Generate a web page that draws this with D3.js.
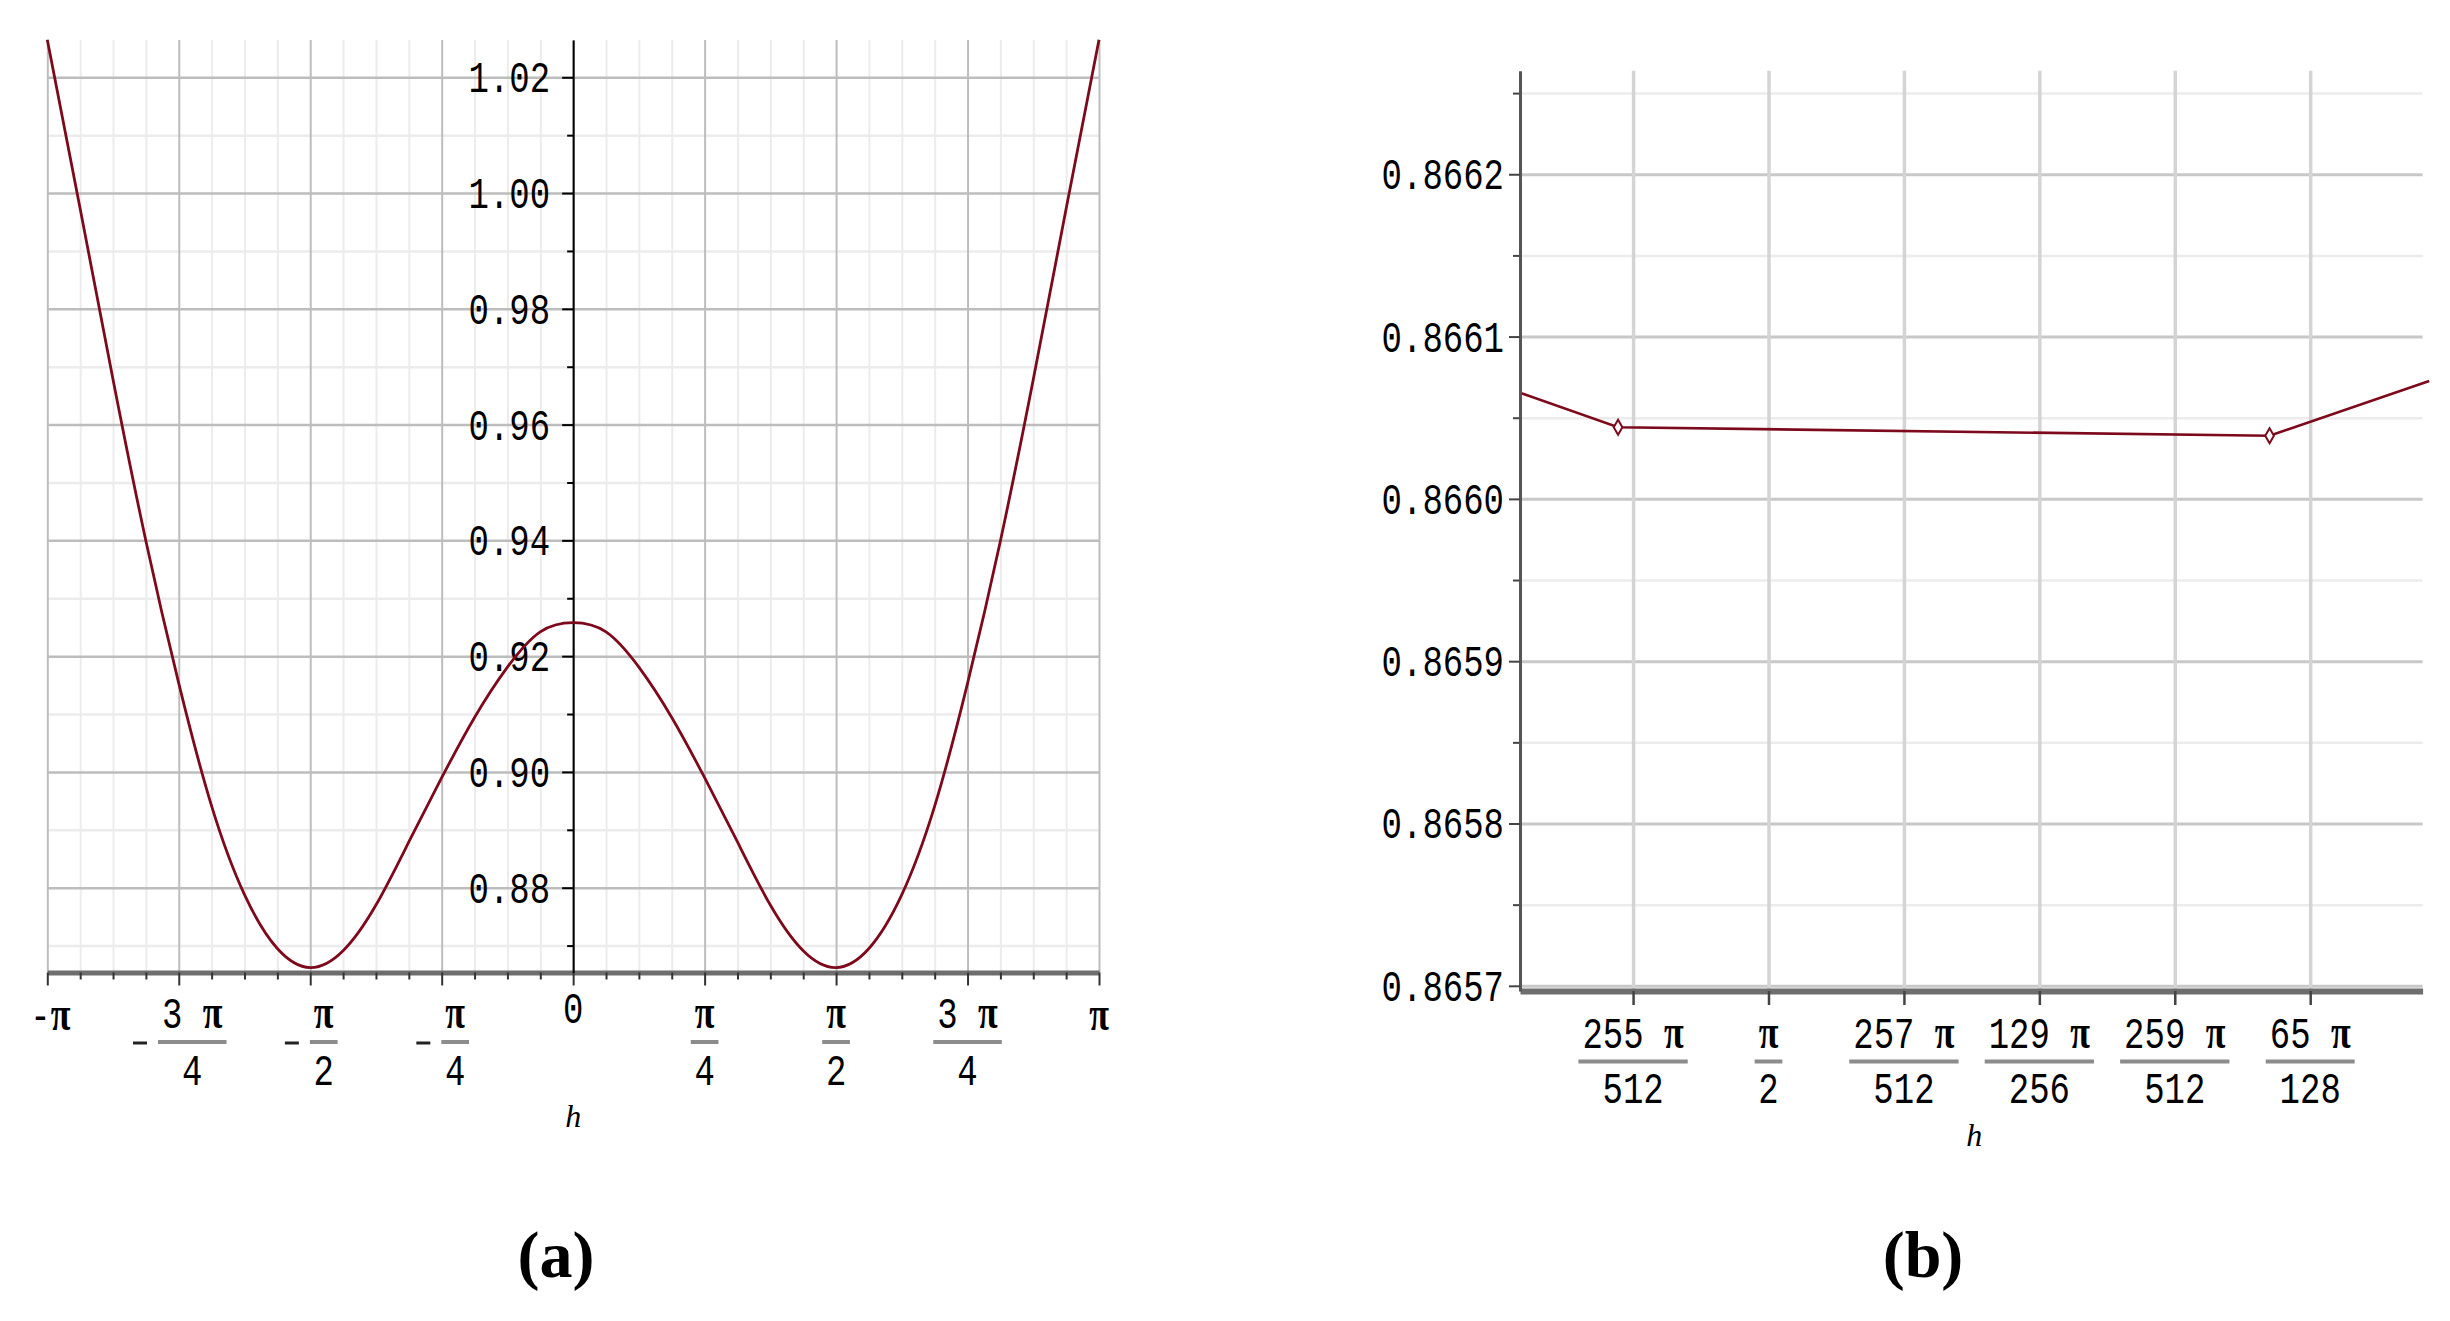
<!DOCTYPE html>
<html>
<head>
<meta charset="utf-8">
<script src="https://cdn.jsdelivr.net/npm/d3@7"></script>
<style>
body { margin: 0; background: #fff; }
text { white-space: pre; }
</style>
</head>
<body>
<script>
// ---- panel (a): h given in multiples of pi/16
var aH = [-16, -15, -14, -13, -12, -11, -10, -9, -8, -7, -6, -5, -4, -3, -2, -1,
          0, 1, 2, 3, 4, 5, 6, 7, 8, 9, 10, 11, 12, 13, 14, 15, 16];
var aF = [1.0265, 0.9973, 0.9678, 0.9399, 0.9153, 0.8941, 0.8788, 0.8695, 0.8662,
          0.8691, 0.8770, 0.8879, 0.8990, 0.9094, 0.9181, 0.9242,
          0.9258,
          0.9242, 0.9181, 0.9094, 0.8990, 0.8879, 0.8770, 0.8691,
          0.8662, 0.8695, 0.8788, 0.8941, 0.9153, 0.9399, 0.9678, 0.9973, 1.0265];
var aYTicks = [0.88, 0.90, 0.92, 0.94, 0.96, 0.98, 1.00, 1.02];
var aYMinor = [0.87, 0.89, 0.91, 0.93, 0.95, 0.97, 0.99, 1.01];
var aXTicks = [-1, -0.75, -0.5, -0.25, 0, 0.25, 0.5, 0.75, 1];
var aXSign = ["", "-", "-", "-", "", "", "", "", ""];
var aXNum = ["-π", "3 π", "π", "π", "0", "π", "π", "3 π", "π"];
var aXDen = ["", "4", "2", "4", "", "4", "2", "4", ""];

// ---- panel (b): h given in multiples of pi/512
var bH = [254.165, 254.889, 259.70, 260.879];
var bF = [0.8660654, 0.8660441, 0.8660389, 0.8660726];
var bMarked = [false, true, true, false];
var bYTicks = [0.8657, 0.8658, 0.8659, 0.8660, 0.8661, 0.8662];
var bYMinor = [0.86575, 0.86585, 0.86595, 0.86605, 0.86615, 0.86625];
var bXTicks = [255, 256, 257, 258, 259, 260];
var bXNum = ["255 π", "π", "257 π", "129 π", "259 π", "65 π"];
var bXDen = ["512", "2", "512", "256", "512", "128"];

var MONO = "'Liberation Mono', 'DejaVu Sans Mono', monospace";
var SY = 1.33;
var RED = "#7d0a1c";

var svg = d3.select("body").append("svg")
    .attr("width", 2450)
    .attr("height", 1321)
    .style("display", "block");

function grid(g, axis, color, w) {
  g.call(axis);
  g.select(".domain").remove();
  g.selectAll("text").remove();
  g.selectAll(".tick line").attr("stroke", color).attr("stroke-width", w);
}

function monoText(g, x, y, str) {
  var t = g.append("text")
      .attr("transform", "translate(" + x + "," + y + ") scale(1," + SY + ")")
      .attr("text-anchor", "middle")
      .attr("font-family", MONO)
      .attr("font-size", 34)
      .attr("fill", "#000");
  var parts = str.split("π");
  parts.forEach(function(p, i) {
    if (p) t.append("tspan").text(p);
    if (i < parts.length - 1)
      t.append("tspan")
        .attr("font-family", "'Liberation Serif', serif")
        .attr("font-weight", "bold")
        .attr("font-size", 36)
        .text("π");
  });
  return t;
}

function fraction(g, cx, sign, num, den, yNum, yBar, yDen) {
  var t = monoText(g, cx, yNum, num);
  var w = t.node().getComputedTextLength() + 8;
  g.append("line")
      .attr("x1", cx - w / 2).attr("x2", cx + w / 2)
      .attr("y1", yBar).attr("y2", yBar)
      .attr("stroke", "#8c8c8c").attr("stroke-width", 4);
  monoText(g, cx, yDen, den);
  if (sign) {
    g.append("line")
        .attr("x1", cx - w / 2 - 25).attr("x2", cx - w / 2 - 11)
        .attr("y1", yBar + 1).attr("y2", yBar + 1)
        .attr("stroke", "#222").attr("stroke-width", 3);
  }
}

// =================== panel (a) ===================
var aX0 = 47.3, aX1 = 1099, aTop = 40, aBot = 972.5;
var xA = d3.scaleLinear().domain([-Math.PI, Math.PI]).range([aX0, aX1]);
var yA = d3.scaleLinear().domain([0.86535, 1.02644]).range([aBot, aTop]);

var pA = svg.append("g");
var aMinorX = d3.range(-16, 17).filter(function(k) { return k % 4; }).map(function(k) { return k * Math.PI / 16; });
var aMajorX = aXTicks.map(function(t) { return t * Math.PI; });

grid(pA.append("g").attr("transform", "translate(0," + aBot + ")"),
     d3.axisBottom(xA).tickValues(aMinorX).tickSize(-(aBot - aTop)).tickFormat(""), "#ececec", 2);
grid(pA.append("g").attr("transform", "translate(" + aX0 + ",0)"),
     d3.axisLeft(yA).tickValues(aYMinor).tickSize(-(aX1 - aX0)).tickFormat(""), "#ececec", 2.5);
grid(pA.append("g").attr("transform", "translate(0," + aBot + ")"),
     d3.axisBottom(xA).tickValues(aMajorX).tickSize(-(aBot - aTop)).tickFormat(""), "#bdbdbd", 2);
grid(pA.append("g").attr("transform", "translate(" + aX0 + ",0)"),
     d3.axisLeft(yA).tickValues(aYTicks).tickSize(-(aX1 - aX0)).tickFormat(""), "#bdbdbd", 2.5);

// x axis (bottom)
var aAllX = d3.range(-16, 17).map(function(k) { return k * Math.PI / 16; });
var axA = pA.append("g").attr("transform", "translate(0," + aBot + ")");
axA.call(d3.axisBottom(xA).tickValues(aAllX).tickSizeOuter(0).tickFormat(""));
axA.select(".domain").attr("stroke", "#6e6e6e").attr("stroke-width", 5);
axA.selectAll(".tick line")
    .attr("stroke", "#333").attr("stroke-width", 2)
    .attr("y2", function(d) { return aMajorX.some(function(m) { return Math.abs(m - d) < 1e-9; }) ? 13 : 7; });

// y axis at h = 0
var ayMinor = pA.append("g").attr("transform", "translate(" + xA(0) + ",0)");
ayMinor.call(d3.axisLeft(yA).tickValues(aYMinor).tickSize(6).tickSizeOuter(0).tickFormat(""));
ayMinor.select(".domain").remove();
ayMinor.selectAll(".tick line").attr("stroke", "#000").attr("stroke-width", 2);

var ayA = pA.append("g").attr("transform", "translate(" + xA(0) + ",0)");
ayA.call(d3.axisLeft(yA).tickValues(aYTicks).tickSize(11).tickPadding(12).tickSizeOuter(0).tickFormat(d3.format(".2f")));
ayA.select(".domain").attr("stroke", "#000").attr("stroke-width", 2);
ayA.selectAll(".tick line").attr("stroke", "#000").attr("stroke-width", 2);
ayA.selectAll("text")
    .attr("font-family", MONO).attr("font-size", 34).attr("fill", "#000")
    .attr("transform", "scale(1," + SY + ")");

// curve
var aData = aH.map(function(k, i) { return {h: k * Math.PI / 16, f: aF[i]}; });
pA.append("path")
    .datum(aData)
    .attr("fill", "none")
    .attr("stroke", RED)
    .attr("stroke-width", 2.8)
    .attr("d", d3.line()
        .x(function(d) { return xA(d.h); })
        .y(function(d) { return yA(d.f); })
        .curve(d3.curveNatural));

// x tick labels
var labA = pA.append("g");
aXTicks.forEach(function(t, i) {
  var cx = xA(t * Math.PI);
  if (!aXDen[i]) {
    monoText(labA, cx + (t < 0 ? 3 : 0), aXNum[i] === "0" ? 1023 : 1030, aXNum[i]);
  } else {
    fraction(labA, cx + (aXSign[i] ? 13.5 : 0), aXSign[i], aXNum[i], aXDen[i], 1028, 1042, 1085);
  }
});
pA.append("text")
    .attr("x", xA(0)).attr("y", 1127)
    .attr("text-anchor", "middle")
    .attr("font-family", "'Liberation Serif', serif")
    .attr("font-style", "italic")
    .attr("font-size", 32)
    .text("h");

// =================== panel (b) ===================
var bX0 = 1520, bX1 = 2422.6, bTop = 70.7, bBot = 991;
var xB = d3.scaleLinear().domain([254.165 * Math.PI / 512, 260.83 * Math.PI / 512]).range([bX0, bX1]);
var yB = d3.scaleLinear().domain([0.8656968, 0.8662638]).range([bBot, bTop]);
var pB = svg.append("g");
var bMajorX = bXTicks.map(function(k) { return k * Math.PI / 512; });

grid(pB.append("g").attr("transform", "translate(" + bX0 + ",0)"),
     d3.axisLeft(yB).tickValues(bYMinor).tickSize(-(bX1 - bX0)).tickFormat(""), "#ececec", 2.5);
grid(pB.append("g").attr("transform", "translate(" + bX0 + ",0)"),
     d3.axisLeft(yB).tickValues(bYTicks).tickSize(-(bX1 - bX0)).tickFormat(""), "#c8c8c8", 3);
grid(pB.append("g").attr("transform", "translate(0," + bBot + ")"),
     d3.axisBottom(xB).tickValues(bMajorX).tickSize(-(bBot - bTop)).tickFormat(""), "#d4d4d4", 3.5);

// curve with sample markers
var bData = bH.map(function(h, i) { return {h: h * Math.PI / 512, f: bF[i], m: bMarked[i]}; });
pB.append("path")
    .datum(bData)
    .attr("fill", "none")
    .attr("stroke", RED)
    .attr("stroke-width", 2.6)
    .attr("d", d3.line()
        .x(function(d) { return xB(d.h); })
        .y(function(d) { return yB(d.f); }));
pB.selectAll(".pt")
    .data(bData.filter(function(d) { return d.m; }))
  .enter().append("path")
    .attr("class", "pt")
    .attr("transform", function(d) { return "translate(" + xB(d.h) + "," + yB(d.f) + ")"; })
    .attr("d", d3.symbol().type(d3.symbolDiamond).size(65))
    .attr("fill", "#fff")
    .attr("stroke", RED)
    .attr("stroke-width", 2);

// x axis
var axB = pB.append("g").attr("transform", "translate(0," + bBot + ")");
axB.call(d3.axisBottom(xB).tickValues(bMajorX).tickSize(14).tickSizeOuter(0).tickFormat(""));
axB.select(".domain").attr("stroke", "#6e6e6e").attr("stroke-width", 6);
axB.selectAll(".tick line").attr("stroke", "#444").attr("stroke-width", 2.5);

// y axis
var byMinor = pB.append("g").attr("transform", "translate(" + bX0 + ",0)");
byMinor.call(d3.axisLeft(yB).tickValues(bYMinor).tickSize(7).tickSizeOuter(0).tickFormat(""));
byMinor.select(".domain").remove();
byMinor.selectAll(".tick line").attr("stroke", "#444").attr("stroke-width", 2);

var ayB = pB.append("g").attr("transform", "translate(" + bX0 + ",0)");
ayB.call(d3.axisLeft(yB).tickValues(bYTicks).tickSize(11).tickPadding(5).tickSizeOuter(0).tickFormat(d3.format(".4f")));
ayB.select(".domain").attr("stroke", "#555").attr("stroke-width", 3);
ayB.selectAll(".tick line").attr("stroke", "#444").attr("stroke-width", 2);
ayB.selectAll("text")
    .attr("font-family", MONO).attr("font-size", 34).attr("fill", "#000")
    .attr("transform", "scale(1," + SY + ")");

var labB = pB.append("g");
bXTicks.forEach(function(k, i) {
  fraction(labB, xB(k * Math.PI / 512), "", bXNum[i], bXDen[i], 1048, 1061.5, 1103);
});
pB.append("text")
    .attr("x", (bX0 + bX1) / 2 + 3).attr("y", 1146)
    .attr("text-anchor", "middle")
    .attr("font-family", "'Liberation Serif', serif")
    .attr("font-style", "italic")
    .attr("font-size", 32)
    .text("h");

// panel captions
svg.selectAll(".cap")
    .data([{x: 556, t: "(a)"}, {x: 1923, t: "(b)"}])
  .enter().append("text")
    .attr("class", "cap")
    .attr("x", function(d) { return d.x; })
    .attr("y", 1277)
    .attr("text-anchor", "middle")
    .attr("font-family", "'Liberation Serif', serif")
    .attr("font-weight", "bold")
    .attr("font-size", 66)
    .text(function(d) { return d.t; });
</script>
</body>
</html>
